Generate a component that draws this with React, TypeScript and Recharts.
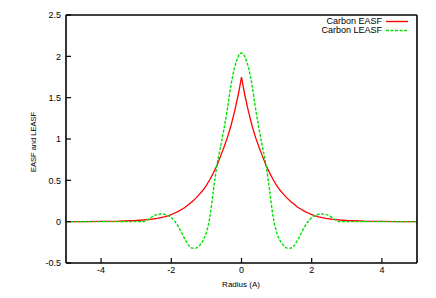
import { LineChart, Line, XAxis, YAxis } from "recharts";

const radius = [
  -5, -4.5, -4, -3.5, -3, -2.9, -2.8, -2.7, -2.6, -2.5, -2.4, -2.3, -2.2, -2.1, -2, -1.9, -1.8, -1.7,
  -1.6, -1.5, -1.4, -1.3, -1.2, -1.1, -1, -0.9, -0.8, -0.7, -0.6, -0.5, -0.4, -0.3, -0.2, -0.1, -0.05,
  0, 0.05, 0.1, 0.2, 0.3, 0.4, 0.5, 0.6, 0.7, 0.8, 0.9, 1, 1.1, 1.2, 1.3, 1.4, 1.5, 1.6, 1.7, 1.8,
  1.9, 2, 2.1, 2.2, 2.3, 2.4, 2.5, 2.6, 2.7, 2.8, 2.9, 3, 3.5, 4, 4.5, 5,
];

const easf = [
  0, 0.001, 0.003, 0.006, 0.014, 0.017, 0.02, 0.024, 0.028, 0.034, 0.04, 0.048, 0.058, 0.07, 0.085,
  0.105, 0.125, 0.15, 0.175, 0.21, 0.245, 0.285, 0.33, 0.38, 0.44, 0.51, 0.59, 0.68, 0.79, 0.9, 1.02,
  1.16, 1.33, 1.52, 1.63,
  1.75,
  1.63, 1.52, 1.33, 1.16, 1.02, 0.9, 0.79, 0.68, 0.59, 0.51, 0.44, 0.38, 0.33, 0.285, 0.245, 0.21,
  0.175, 0.15, 0.125, 0.105, 0.085, 0.07, 0.058, 0.048, 0.04, 0.034, 0.028, 0.024, 0.02, 0.017, 0.014,
  0.006, 0.003, 0.001, 0,
];

const leasf = [
  0, 0, 0, 0, 0, 0, 0, 0.015, 0.045, 0.07, 0.088, 0.093, 0.09, 0.075, 0.05, 0.005, -0.06, -0.14,
  -0.22, -0.29, -0.32, -0.32, -0.29, -0.23, -0.13, 0.06, 0.38, 0.68, 0.9, 1.12, 1.37, 1.65, 1.86,
  1.99, 2.03,
  2.04,
  2.03, 1.99, 1.86, 1.65, 1.37, 1.12, 0.9, 0.68, 0.38, 0.06, -0.13, -0.23, -0.29, -0.32, -0.32,
  -0.29, -0.22, -0.14, -0.06, 0.005, 0.05, 0.075, 0.09, 0.093, 0.088, 0.07, 0.045, 0.015, 0, 0, 0,
  0, 0, 0, 0,
];

const xTicks = [-4, -2, 0, 2, 4];
const yTicks = [-0.5, 0, 0.5, 1, 1.5, 2, 2.5];

const data = radius.map((r, i) => ({ r, easf: easf[i], leasf: leasf[i] }));

const FONT = "'Liberation Sans', Arial, sans-serif";
const RED = "#ff0000";
const GREEN = "#00e000";
const tickStyle = { fontSize: 9, fill: "#000", fontFamily: FONT };
const axisLine = { stroke: "#000", strokeWidth: 1.6 };
const tickLine = { stroke: "#000", strokeWidth: 1.2 };

export default function App() {
  return (
    <div
      style={{
        position: "absolute",
        left: 0,
        top: 0,
        width: 436,
        height: 298,
        background: "#fff",
        fontFamily: FONT,
      }}
    >
      <LineChart
        width={436}
        height={298}
        data={data}
        margin={{ top: 14, right: 18, left: 6, bottom: 9 }}
      >
        <XAxis
          xAxisId="b"
          dataKey="r"
          type="number"
          domain={[-5, 5]}
          ticks={xTicks}
          allowDataOverflow
          height={26}
          tick={tickStyle}
          tickSize={-5}
          tickMargin={9}
          tickLine={tickLine}
          axisLine={axisLine}
        />
        <XAxis
          xAxisId="t"
          orientation="top"
          dataKey="r"
          type="number"
          domain={[-5, 5]}
          ticks={xTicks}
          allowDataOverflow
          height={1}
          tick={false}
          tickSize={-5}
          tickLine={tickLine}
          axisLine={axisLine}
        />
        <YAxis
          yAxisId="l"
          type="number"
          domain={[-0.5, 2.5]}
          ticks={yTicks}
          allowDataOverflow
          width={60}
          tick={tickStyle}
          tickSize={-5}
          tickMargin={10}
          tickLine={tickLine}
          axisLine={axisLine}
        />
        <YAxis
          yAxisId="r"
          orientation="right"
          type="number"
          domain={[-0.5, 2.5]}
          ticks={yTicks}
          allowDataOverflow
          width={1}
          tick={false}
          tickSize={-5}
          tickLine={tickLine}
          axisLine={axisLine}
        />
        {/* invisible series so the mirror axes (top / right) are drawn */}
        <Line
          xAxisId="t"
          yAxisId="r"
          dataKey="easf"
          stroke="none"
          dot={false}
          activeDot={false}
          isAnimationActive={false}
        />
        <Line
          xAxisId="b"
          yAxisId="l"
          type="linear"
          dataKey="easf"
          stroke={RED}
          strokeWidth={1.3}
          dot={false}
          isAnimationActive={false}
        />
        <Line
          xAxisId="b"
          yAxisId="l"
          type="monotone"
          dataKey="leasf"
          stroke={GREEN}
          strokeWidth={1.4}
          strokeDasharray="3 1.5"
          dot={false}
          isAnimationActive={false}
        />
      </LineChart>

      {/* legend, top right inside the frame */}
      <div style={{ position: "absolute", top: 17, right: 28, fontSize: 9, lineHeight: "9px", color: "#000" }}>
        {[
          { name: "Carbon EASF", color: RED, dash: false },
          { name: "Carbon LEASF", color: GREEN, dash: true },
        ].map((d) => (
          <div key={d.name} style={{ display: "flex", alignItems: "center", justifyContent: "flex-end", height: 9 }}>
            <span>{d.name}</span>
            <svg width={26} height={9} style={{ display: "block" }}>
              <line
                x1={4}
                x2={26}
                y1={4.5}
                y2={4.5}
                stroke={d.color}
                strokeWidth={1.4}
                strokeDasharray={d.dash ? "3 1.5" : undefined}
              />
            </svg>
          </div>
        ))}
      </div>

      <div
        style={{
          position: "absolute",
          left: 241,
          top: 280,
          transform: "translateX(-50%)",
          fontSize: 8,
          whiteSpace: "nowrap",
        }}
      >
        Radius (A)
      </div>
      <div
        style={{
          position: "absolute",
          left: 33,
          top: 142,
          transform: "translate(-50%, -50%) rotate(-90deg)",
          fontSize: 7.5,
          whiteSpace: "nowrap",
        }}
      >
        EASF and LEASF
      </div>
    </div>
  );
}
